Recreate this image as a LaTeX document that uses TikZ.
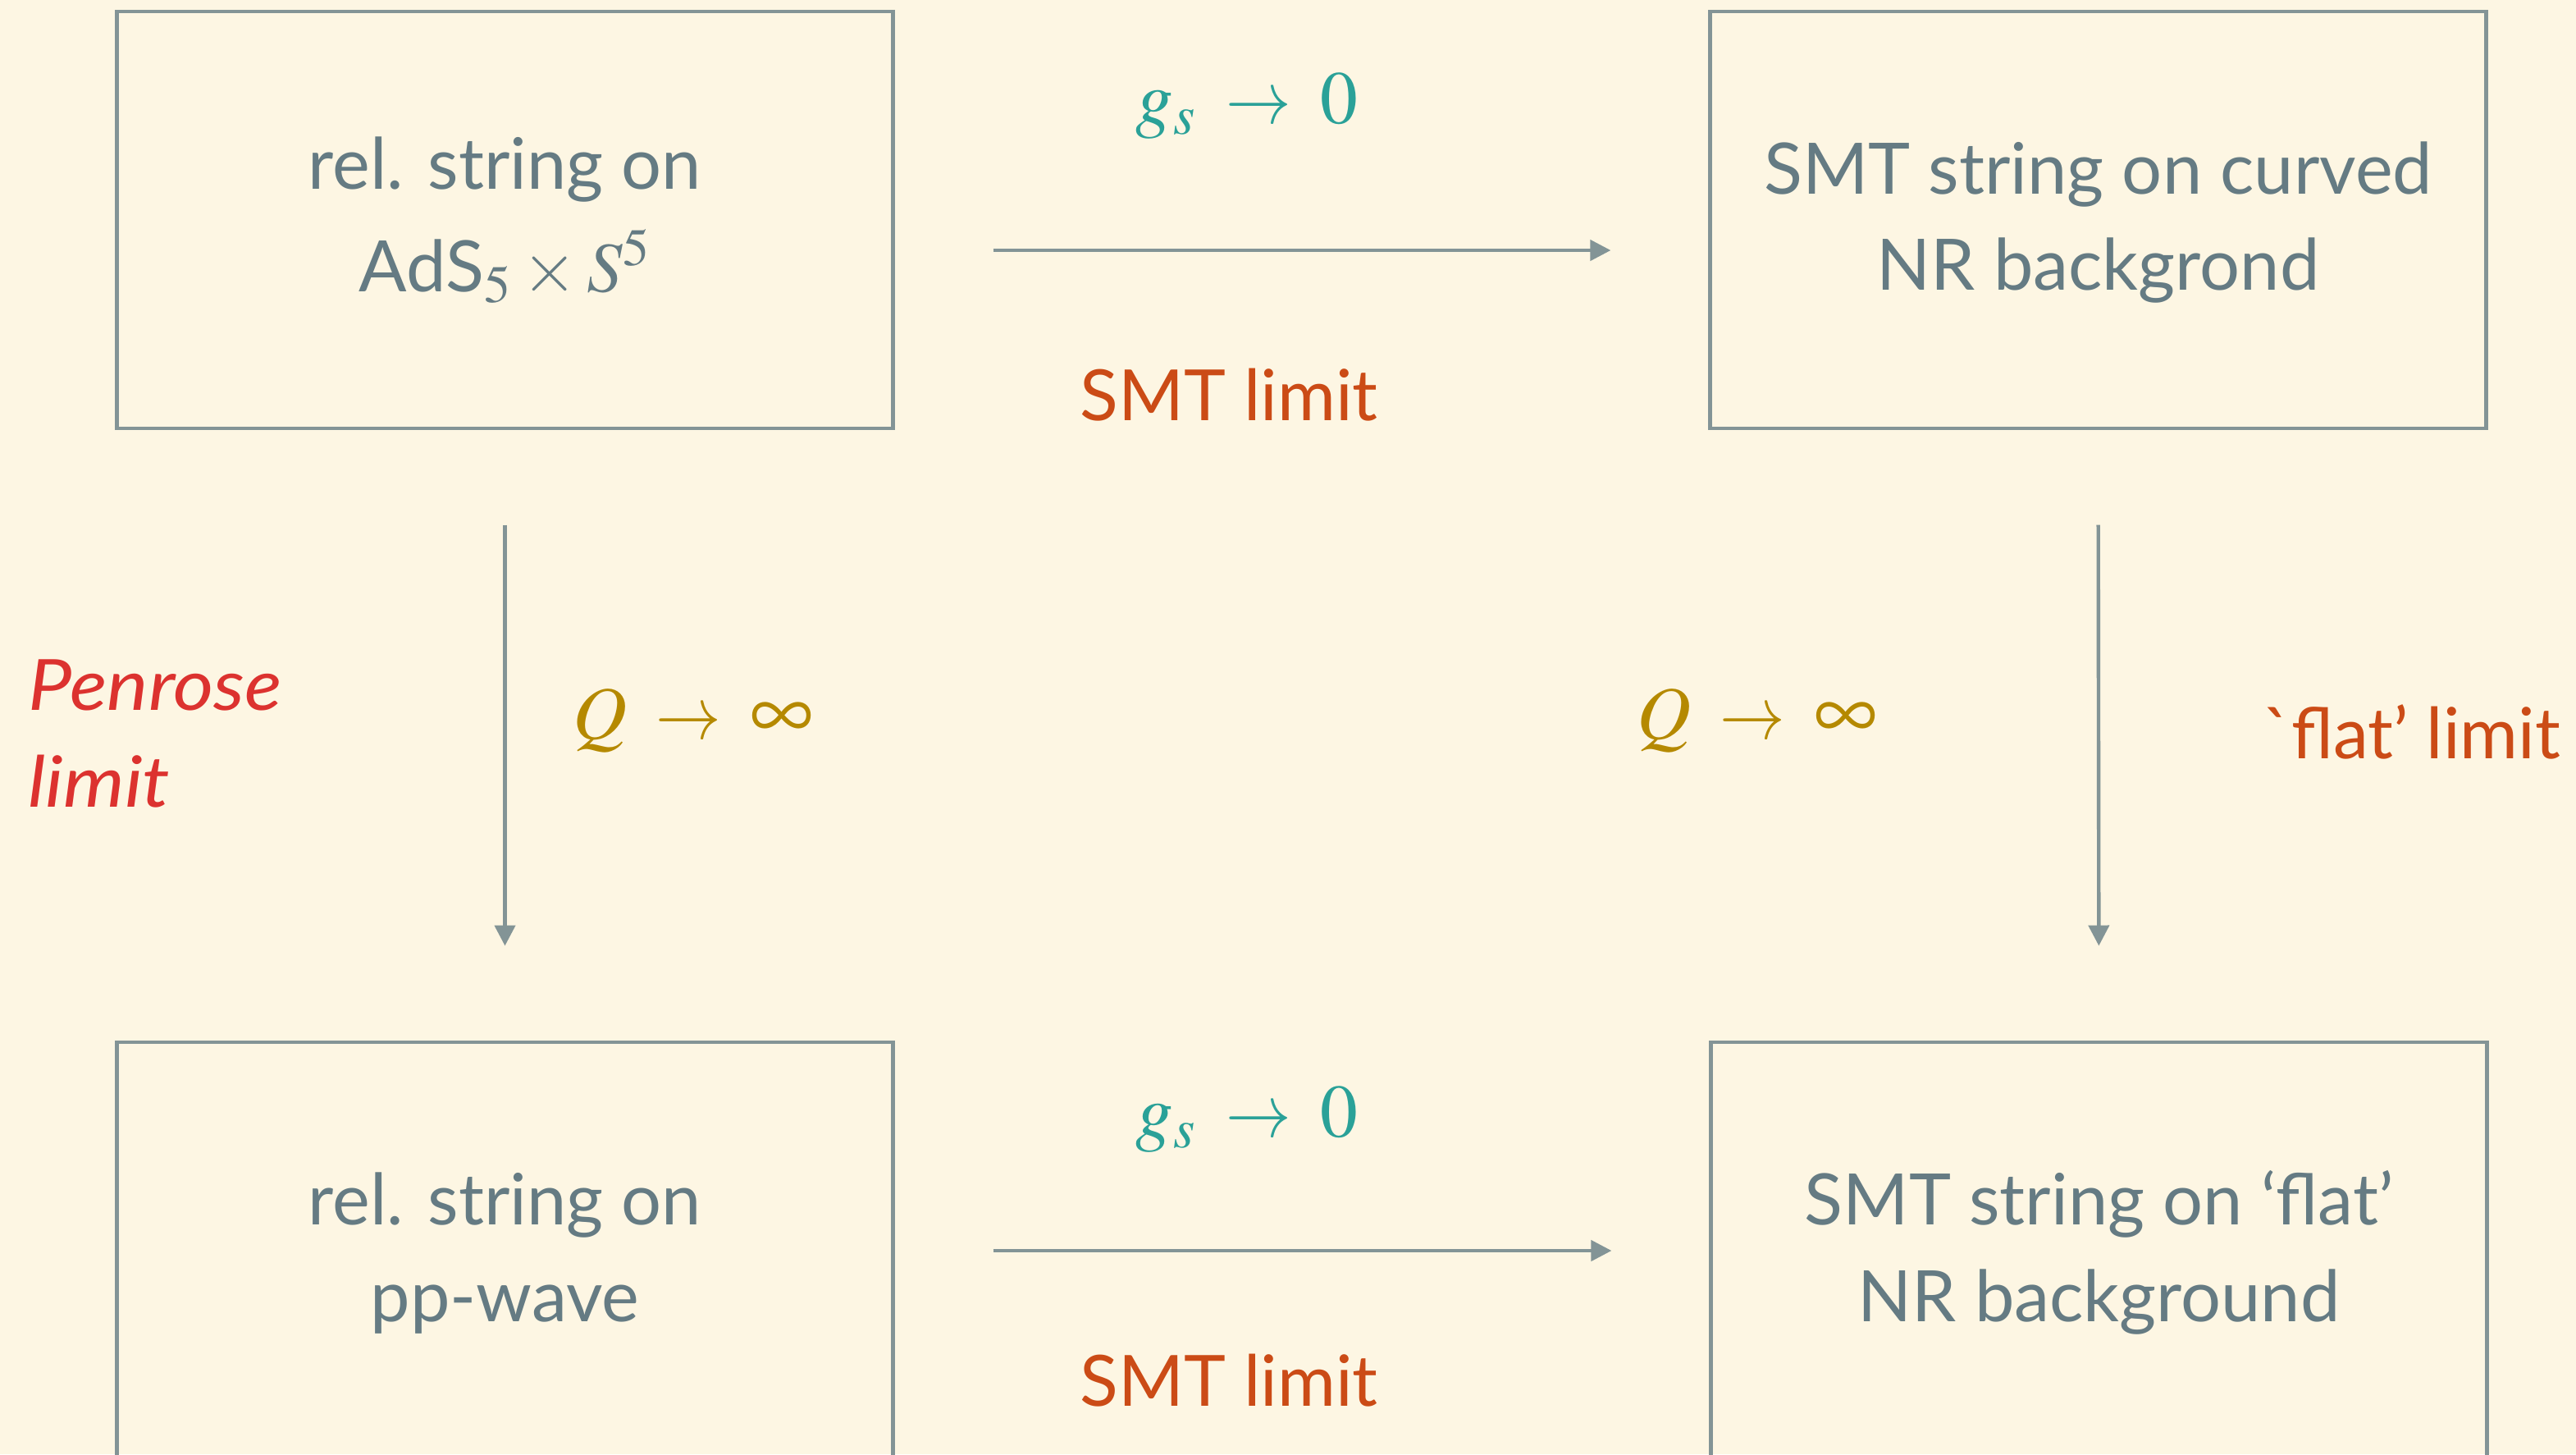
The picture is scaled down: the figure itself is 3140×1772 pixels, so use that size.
\documentclass[tikz,border=0pt]{standalone}
\usepackage{graphicx}
\usepackage{mathptmx}
\usepackage[no-math]{fontspec}
\setmainfont{Lato}
\newfontfamily\penfont{Lato}[FakeStretch=1.1]
\usetikzlibrary{arrows.meta}
\definecolor{bgc}{HTML}{FDF6E3}
\definecolor{framec}{HTML}{839496}
\definecolor{txtc}{HTML}{657B83}
\definecolor{tealc}{HTML}{2AA198}
\definecolor{orngc}{HTML}{CB4B16}
\definecolor{ylwc}{HTML}{B58900}
\definecolor{redc}{HTML}{DC322F}
\newcommand{\shto}{\mathrel{\mkern3mu\scalebox{0.87}[1]{$\rightarrow$}\mkern3mu}}
\newcommand{\biginf}{\scalebox{1.18}{$\infty$}}
\tikzset{
  box/.style={draw=framec, line width=1.3pt, minimum width=9.45cm, minimum height=5.08cm, inner sep=0pt},
  boxtext/.style={anchor=base, align=center, text=txtc, font=\fontsize{24.6}{33.1}\selectfont, inner sep=0pt},
  arr/.style={draw=framec, line width=1.25pt, -{Triangle[length=0.25cm,width=0.25cm]}},
  mathlbl/.style={anchor=base, font=\fontsize{26}{30}\selectfont},
  txtlbl/.style={anchor=base, font=\fontsize{24.5}{33}\selectfont},
}
\begin{document}
\begin{tikzpicture}[x=0.01cm,y=-0.01cm]
\fill[bgc] (0,0) rectangle (3140,1772);
\useasboundingbox (0,0) rectangle (3140,1772);
\clip (0,0) rectangle (3140,1772);
\node[box] (tl) at (615.5,268) {};
\node[box] (tr) at (2557.5,268) {};
\node[box] (bl) at (615.5,1524) {};
\node[box] (br) at (2558.5,1524) {};
\node[boxtext, font=\fontsize{24.6}{35.3}\selectfont] (tlt) at (615.5,355) {rel. string on\\AdS$_5\times S^5$};
\node[boxtext] (trt) at (2557.5,353) {SMT string on curved\\NR backgrond};
\node[boxtext, font=\fontsize{24.6}{33.4}\selectfont] (blt) at (615.5,1610) {rel. string on\\pp-wave};
\node[boxtext, font=\fontsize{24.6}{33.4}\selectfont] (brt) at (2558.5,1610) {SMT string on ‘flat’\\NR background};
\draw[arr, shorten <=1.2cm, shorten >=1.19cm] ([yshift=-0.37cm]tl.east) -- ([yshift=-0.37cm]tr.west);
\draw[arr, shorten <=1.2cm, shorten >=1.19cm] (bl.east) -- (br.west);
\draw[arr, shorten <=1.15cm, shorten >=1.15cm] (tl.south) -- (bl.north);
\draw[arr, shorten <=1.15cm, shorten >=1.15cm] (tr.south) -- (br.north);
\node[mathlbl, text=tealc] (g1) at (1520,150) {$g_s\shto 0$};
\node[txtlbl, text=orngc] (s1) at (1498,512) {SMT limit};
\node[mathlbl, text=tealc] (g2) at (1520,1385) {$g_s\shto 0$};
\node[txtlbl, text=orngc] (s2) at (1498,1713) {SMT limit};
\node[anchor=base west, align=left, text=redc, font=\fontsize{24.5}{33.3}\selectfont\penfont\itshape] (pen) at (22,983) {Penrose\\limit};
\node[mathlbl, text=ylwc] (q1) at (845,900) {$Q\shto\biginf$};
\node[mathlbl, text=ylwc] (q2) at (2142,900) {$Q\shto\biginf$};
\node[txtlbl, text=orngc] (fl) at (2940,924) {\textasciigrave flat’ limit};
\end{tikzpicture}
\end{document}
